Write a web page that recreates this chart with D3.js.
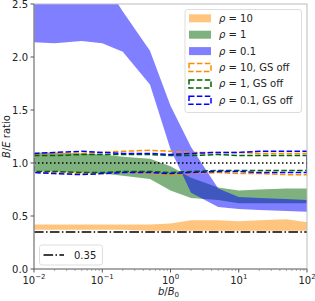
<!DOCTYPE html>
<html lang="en">
<head>
<meta charset="UTF-8">
<script src="https://cdn.jsdelivr.net/npm/d3@7"></script>
<style>
  body { margin: 0; padding: 0; background: #fff; overflow: hidden; }
  svg { font-family: "DejaVu Sans", sans-serif; }
</style>
</head>
<body>
<div id="chart"></div>
<script>
// b/B0 sample points
const bVals = [0.01, 0.02, 0.05, 0.1, 0.2, 0.5, 1, 2, 5, 10, 20, 50, 100];

// filled bands (GS on)
const rho10Lo = [0.37, 0.37, 0.37, 0.37, 0.37, 0.36, 0.36, 0.36, 0.36, 0.36, 0.36, 0.36, 0.36];
const rho10Hi = [0.42, 0.42, 0.42, 0.42, 0.42, 0.42, 0.43, 0.46, 0.46, 0.45, 0.46, 0.47, 0.44];
const rho1Lo = [0.92, 0.92, 0.91, 0.90, 0.88, 0.85, 0.74, 0.67, 0.65, 0.62, 0.62, 0.62, 0.62];
const rho1Hi = [1.10, 1.10, 1.09, 1.08, 1.06, 1.04, 0.97, 0.86, 0.77, 0.74, 0.75, 0.76, 0.76];
const rho01Lo = [2.14, 2.13, 2.15, 2.13, 2.05, 1.74, 1.13, 0.72, 0.585, 0.565, 0.557, 0.547, 0.54];
const rho01Hi = [2.85, 2.85, 2.8, 2.73, 2.43, 2.06, 1.54, 1.15, 0.76, 0.68, 0.67, 0.66, 0.65];

// dashed outlines (GS off)
const off10Lo = [0.91, 0.91, 0.90, 0.90, 0.91, 0.90, 0.89, 0.90, 0.91, 0.90, 0.90, 0.89, 0.89];
const off10Hi = [1.08, 1.09, 1.09, 1.10, 1.11, 1.12, 1.11, 1.10, 1.10, 1.10, 1.09, 1.09, 1.09];
const off1Lo = [0.92, 0.92, 0.91, 0.91, 0.92, 0.92, 0.91, 0.92, 0.93, 0.93, 0.93, 0.93, 0.93];
const off1Hi = [1.07, 1.07, 1.08, 1.08, 1.08, 1.08, 1.07, 1.07, 1.08, 1.07, 1.07, 1.07, 1.07];
const off01Lo = [0.91, 0.90, 0.89, 0.90, 0.91, 0.91, 0.90, 0.91, 0.92, 0.92, 0.91, 0.91, 0.91];
const off01Hi = [1.09, 1.10, 1.11, 1.10, 1.09, 1.09, 1.08, 1.09, 1.10, 1.10, 1.11, 1.11, 1.11];

const refLevel = 1.0;
const limitLevel = 0.35;

const yTicks = [0, 0.5, 1.0, 1.5, 2.0, 2.5];
const xTickExps = [-2, -1, 0, 1, 2];

const bands = [
  { label: "10", lo: rho10Lo, hi: rho10Hi, color: "#ff8c00" },
  { label: "1", lo: rho1Lo, hi: rho1Hi, color: "#006400" },
  { label: "0.1", lo: rho01Lo, hi: rho01Hi, color: "#0000ff" }
];
const outlines = [
  { label: "10, GS off", lo: off10Lo, hi: off10Hi, color: "#ff8c00" },
  { label: "1, GS off", lo: off1Lo, hi: off1Hi, color: "#006400" },
  { label: "0.1, GS off", lo: off01Lo, hi: off01Hi, color: "#0000ff" }
];

const width = 315, height = 301;
const mLeft = 34, mRight = 307, mTop = 4, mBottom = 269;

const svg = d3.select("#chart").append("svg")
  .attr("width", width).attr("height", height);

const x = d3.scaleLog().domain([0.01, 100]).range([mLeft, mRight]);
const y = d3.scaleLinear().domain([0, 2.5]).range([mBottom, mTop]);

svg.append("clipPath").attr("id", "clip")
  .append("rect").attr("x", mLeft).attr("y", mTop)
  .attr("width", mRight - mLeft).attr("height", mBottom - mTop);

const plot = svg.append("g").attr("clip-path", "url(#clip)");

const area = (lo, hi) => d3.area()
  .x((d, i) => x(bVals[i]))
  .y0((d, i) => y(lo[i]))
  .y1((d, i) => y(hi[i]))(bVals);

bands.forEach(b => {
  plot.append("path")
    .attr("d", area(b.lo, b.hi))
    .attr("fill", b.color)
    .attr("fill-opacity", 0.5);
});

// closed dashed outline: upper edge forward, lower edge back
const outlinePath = (lo, hi) => {
  const pts = bVals.map((v, i) => [x(v), y(hi[i])])
    .concat(bVals.map((v, i) => [x(v), y(lo[i])]).reverse());
  return d3.line()(pts) + "Z";
};

outlines.forEach(o => {
  plot.append("path")
    .attr("d", outlinePath(o.lo, o.hi))
    .attr("fill", "none")
    .attr("stroke", o.color)
    .attr("stroke-width", 1.5)
    .attr("stroke-dasharray", "5.5,2.4");
});

plot.append("line")
  .attr("x1", x(0.01)).attr("x2", x(100))
  .attr("y1", y(refLevel)).attr("y2", y(refLevel))
  .attr("stroke", "#000").attr("stroke-width", 1.5)
  .attr("stroke-dasharray", "1.5,2.5");

plot.append("line")
  .attr("x1", x(0.01)).attr("x2", x(100))
  .attr("y1", y(limitLevel)).attr("y2", y(limitLevel))
  .attr("stroke", "#000").attr("stroke-width", 1.5)
  .attr("stroke-dasharray", "9.6,2.4,1.5,2.4");

// spines
svg.append("rect")
  .attr("x", mLeft).attr("y", mTop)
  .attr("width", mRight - mLeft).attr("height", mBottom - mTop)
  .attr("fill", "none").attr("stroke", "#bbb").attr("stroke-width", 1);
svg.append("line").attr("x1", mLeft).attr("x2", mLeft).attr("y1", mTop).attr("y2", mBottom)
  .attr("stroke", "#777");
svg.append("line").attr("x1", mLeft).attr("x2", mRight).attr("y1", mBottom).attr("y2", mBottom)
  .attr("stroke", "#777");

// y axis
const yAxis = svg.append("g");
yTicks.forEach(t => {
  yAxis.append("line").attr("x1", mLeft - 3.5).attr("x2", mLeft)
    .attr("y1", y(t)).attr("y2", y(t)).attr("stroke", "#555");
  yAxis.append("text").attr("x", mLeft - 6).attr("y", y(t))
    .attr("dy", "0.35em").attr("text-anchor", "end")
    .attr("font-size", 10).attr("fill", "#222")
    .text(t.toFixed(1));
});

// x axis with major and minor ticks
const xAxis = svg.append("g");
xTickExps.forEach(e => {
  const v = Math.pow(10, e);
  xAxis.append("line").attr("x1", x(v)).attr("x2", x(v))
    .attr("y1", mBottom).attr("y2", mBottom + 3.5).attr("stroke", "#555");
  const t = xAxis.append("text").attr("x", x(v)).attr("y", mBottom + 14.5)
    .attr("text-anchor", "middle").attr("font-size", 10).attr("fill", "#222");
  t.append("tspan").text("10");
  t.append("tspan").attr("dy", -4.5).attr("font-size", 7)
    .text(e < 0 ? "\u2212" + (-e) : String(e));
  if (e < 2) {
    for (let m = 2; m <= 9; m++) {
      xAxis.append("line").attr("x1", x(m * v)).attr("x2", x(m * v))
        .attr("y1", mBottom).attr("y2", mBottom + 2).attr("stroke", "#777")
        .attr("stroke-width", 0.6);
    }
  }
});

// axis labels
const xl = svg.append("text").attr("x", (mLeft + mRight) / 2 - 2).attr("y", 294.5)
  .attr("text-anchor", "middle").attr("font-size", 10).attr("fill", "#222");
xl.append("tspan").attr("font-style", "italic").text("b");
xl.append("tspan").text("/");
xl.append("tspan").attr("font-style", "italic").text("B");
xl.append("tspan").attr("dy", 2.5).attr("font-size", 7).text("0");

const yl = svg.append("text")
  .attr("transform", `translate(10,${(mTop + mBottom) / 2}) rotate(-90)`)
  .attr("text-anchor", "middle").attr("font-size", 10).attr("fill", "#222");
yl.append("tspan").attr("font-style", "italic").text("B");
yl.append("tspan").text("/");
yl.append("tspan").attr("font-style", "italic").text("E");
yl.append("tspan").text(" ratio");

// main legend
const lg = svg.append("g");
lg.append("rect").attr("x", 185).attr("y", 9.5).attr("width", 116.5).attr("height", 103)
  .attr("rx", 2.5).attr("fill", "#fff").attr("fill-opacity", 0.8)
  .attr("stroke", "#ddd");
const rowY = i => 18.3 + i * 16.4;
const addLabel = (yy, txt) => {
  const t = lg.append("text").attr("x", 219).attr("y", yy).attr("dy", "0.35em")
    .attr("font-size", 10).attr("fill", "#222");
  t.append("tspan").attr("font-style", "italic").text("\u03c1");
  t.append("tspan").text(" = " + txt);
};
bands.forEach((b, i) => {
  lg.append("rect").attr("x", 189).attr("y", rowY(i) - 4).attr("width", 22).attr("height", 8)
    .attr("fill", b.color).attr("fill-opacity", 0.5);
  addLabel(rowY(i), b.label);
});
outlines.forEach((o, j) => {
  const i = j + 3;
  lg.append("rect").attr("x", 189).attr("y", rowY(i) - 4).attr("width", 22).attr("height", 8)
    .attr("fill", "none").attr("stroke", o.color).attr("stroke-width", 1.5)
    .attr("stroke-dasharray", "5.5,2.4");
  addLabel(rowY(i), o.label);
});

// lower-left legend
const lg2 = svg.append("g");
lg2.append("rect").attr("x", 39.5).attr("y", 245).attr("width", 63).attr("height", 20)
  .attr("rx", 2.5).attr("fill", "#fff").attr("fill-opacity", 0.8).attr("stroke", "#ddd");
lg2.append("line").attr("x1", 43.5).attr("x2", 64).attr("y1", 255).attr("y2", 255)
  .attr("stroke", "#000").attr("stroke-width", 1.5)
  .attr("stroke-dasharray", "9.6,2.4,1.5,2.4");
lg2.append("text").attr("x", 74).attr("y", 255).attr("dy", "0.35em")
  .attr("font-size", 10).attr("fill", "#222").text(limitLevel.toFixed(2));
</script>
</body>
</html>
